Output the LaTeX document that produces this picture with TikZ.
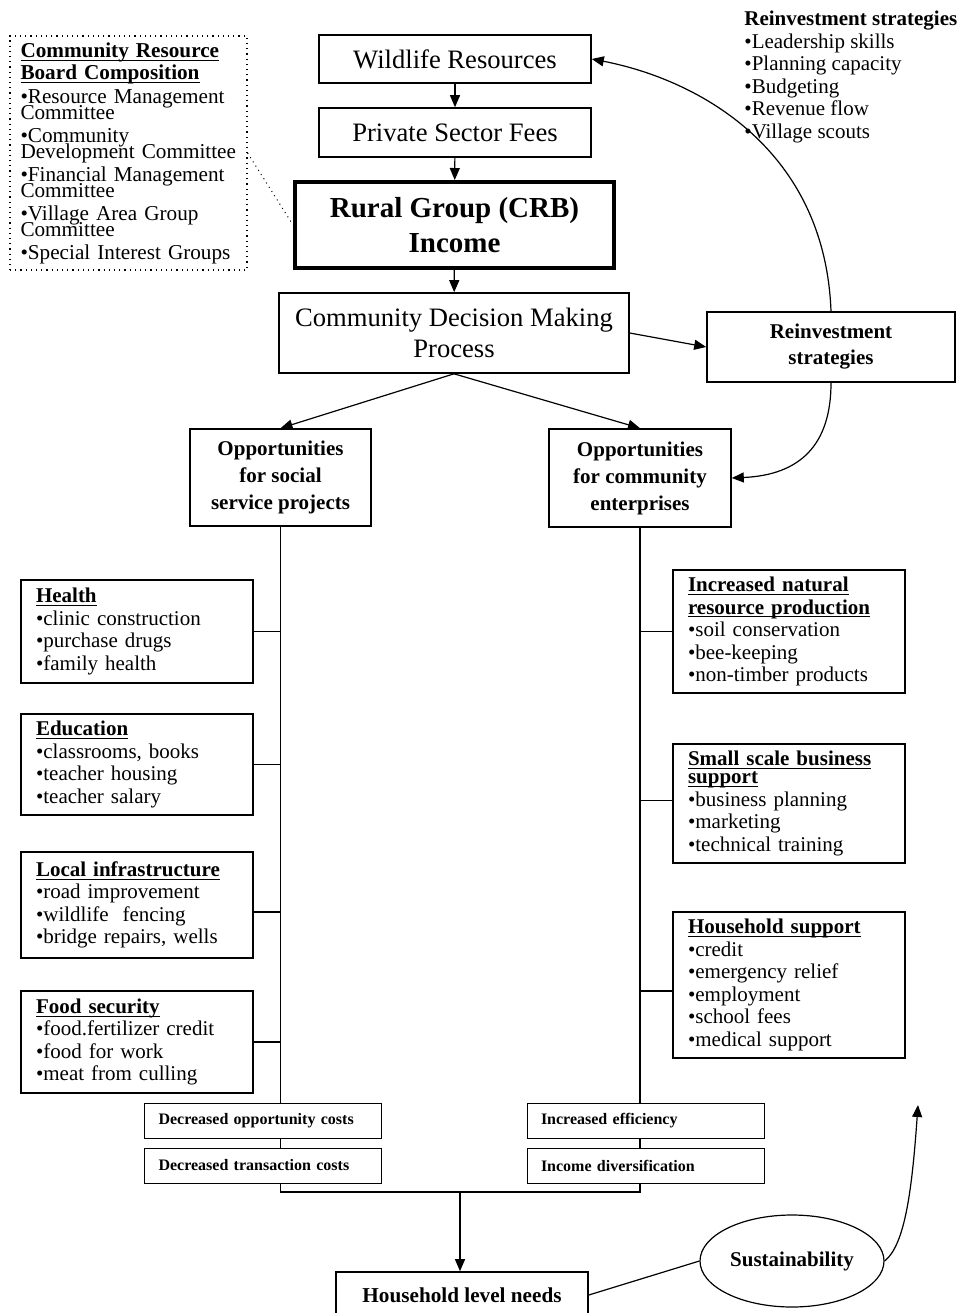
\documentclass[tikz,border=0pt]{standalone}
\usepackage{fontspec}
\setmainfont{Liberation Serif}
\usetikzlibrary{arrows.meta,shapes.geometric}
\newcommand{\hd}[1]{\underline{\raisebox{0pt}[\height][0pt]{\textbf{#1}}}}
\tikzset{
  box/.style={draw, line width=0.8pt, align=center, inner sep=0pt},
  listbox/.style={draw, line width=0.8pt, text width=101pt, inner xsep=7.5pt, inner ysep=0pt, align=left, font=\fontsize{10.5}{11.25}\selectfont},
  smallbox/.style={draw, line width=0.5pt, minimum height=17.5pt, text width=104.5pt, inner xsep=7pt, inner ysep=0pt, align=left, font=\bfseries\fontsize{8}{9}\selectfont},
  conn/.style={line width=0.6pt},
  arr/.style={line width=0.6pt, -{Triangle[length=6pt,width=5pt]}}
}
\begin{document}
\begin{tikzpicture}[x=0.5pt,y=-0.5pt]
\useasboundingbox (0,0) rectangle (962,1313);
% top chain
\node[box, minimum width=136pt, minimum height=24pt, font=\fontsize{13.3}{16}\selectfont] (wild) at (455,59) {Wildlife Resources};
\node[box, minimum width=136pt, minimum height=24.5pt, font=\fontsize{13.3}{16}\selectfont] (priv) at (455,132.5) {Private Sector Fees};
\node[box, line width=2pt, minimum width=159.5pt, minimum height=43pt, font=\bfseries\fontsize{14.5}{17.5}\selectfont] (rural) at (454.5,225) {Rural Group (CRB)\\ Income};
\node[box, minimum width=175pt, minimum height=40pt, font=\fontsize{13.3}{15.5}\selectfont] (cdm) at (454,333) {Community Decision Making\\ Process};
\node[box, minimum width=124pt, minimum height=35pt, font=\bfseries\fontsize{10.5}{13}\selectfont] (reinv) at (831,347) {Reinvestment\\ strategies};
% board composition
\node[draw, dotted, line width=0.6pt, text width=108pt, inner xsep=5.25pt, inner ysep=0pt, minimum height=117pt, align=left, font=\fontsize{10.6}{11.25}\selectfont] (crb) at (128.5,153) {\hd{Community Resource}\\ \hd{Board Composition}\\[0.5pt] •Resource Management\\[-3pt] Committee\\ •Community\\[-3pt] Development Committee\\ •Financial Management\\[-3pt] Committee\\ •Village Area Group\\[-3pt] Committee\\ •Special Interest Groups};
\node[anchor=west, inner sep=0pt, align=left, font=\fontsize{10.5}{11.3}\selectfont] (rlist) at (744,77) {\textbf{Reinvestment strategies}\\ •Leadership skills\\ •Planning capacity\\ •Budgeting\\ •Revenue flow\\ •Village scouts};
% opportunities
\node[box, minimum width=90.5pt, minimum height=48.5pt, font=\bfseries\fontsize{10.5}{13.5}\selectfont] (soc) at (280.5,477.5) {Opportunities\\ for social\\ service projects};
\node[box, minimum width=91pt, minimum height=49pt, font=\bfseries\fontsize{10.5}{13.5}\selectfont] (com) at (640,478) {Opportunities\\ for community\\ enterprises};
% social service projects
\node[listbox, minimum height=51.5pt] (health) at (137,631.5) {\hd{Health}\\ •clinic construction\\ •purchase drugs\\ •family health};
\node[listbox, minimum height=50.5pt] (educ) at (137,764.5) {\hd{Education}\\ •classrooms, books\\ •teacher housing\\ •teacher salary};
\node[listbox, minimum height=53pt] (infra) at (137,905) {\hd{Local infrastructure}\\ •road improvement\\ •wildlife\ \ fencing\\ •bridge repairs, wells};
\node[listbox, minimum height=51pt] (food) at (137,1042) {\hd{Food security}\\ •food.fertilizer credit\\ •food for work\\ •meat from culling};
% community enterprises
\node[listbox, minimum height=61.5pt] (natres) at (789,631.5) {\hd{Increased natural}\\ \hd{resource production}\\ •soil conservation\\ •bee-keeping\\ •non-timber products};
\node[listbox, minimum height=59.5pt] (business) at (789,803.5) {\hd{Small scale business}\\[-2.25pt] \hd{support}\\ •business planning\\ •marketing\\ •technical training};
\node[listbox, minimum height=73pt] (hsupport) at (789,985) {\hd{Household support}\\ •credit\\ •emergency relief\\ •employment\\ •school fees\\ •medical support};
% outcomes
\node[smallbox, minimum width=118.5pt] (dopp) at (263,1121) {Decreased opportunity costs};
\node[smallbox, minimum width=118.5pt] (dtrans) at (263,1165.5) {Decreased transaction costs};
\node[smallbox, minimum width=118.5pt] (ieff) at (645.5,1120.5) {Increased efficiency};
\node[smallbox, minimum width=118.5pt] (idiv) at (645.5,1166) {Income diversification};
\node[box, minimum width=126pt, minimum height=23pt, font=\bfseries\fontsize{10.6}{12}\selectfont] (hh) at (462,1295) {Household level needs};
\node[draw, ellipse, line width=0.6pt, minimum width=92pt, minimum height=46pt, inner sep=0pt, font=\bfseries\fontsize{10.5}{12}\selectfont] (sus) at (792,1261) {Sustainability};
\coordinate (join) at (460,1192);
\coordinate (tip) at (918,1105);
% arrows
\draw[arr] (wild) -- (priv);
\draw[arr] (priv) -- (rural);
\draw[arr] (rural) -- (cdm);
\draw[arr] (cdm.south) -- (soc.north);
\draw[arr] (cdm.south) -- (com.north);
\draw[arr] (cdm.east) -- (reinv.west);
\draw[arr] (reinv.north) .. controls (825,150) and (700,80) .. (wild.east);
\draw[arr] (reinv.south) .. controls (831,445) and (800,475) .. (com.east);
\draw[dotted, line width=0.5pt] (crb.east) -- (rural.west);
% trunk lines
\draw[conn] (soc.south) -- (soc.south |- dopp.north);
\draw[conn] (soc.south |- dopp.south) -- (soc.south |- dtrans.north);
\draw[conn] (soc.south |- dtrans.south) -- (soc.south |- join) -- (com.south |- join) -- (com.south |- idiv.south);
\draw[conn] (com.south) -- (com.south |- ieff.north);
\draw[conn] (com.south |- ieff.south) -- (com.south |- idiv.north);
\draw[conn] (health.east) -- (health.east -| soc.south);
\draw[conn] (educ.east) -- (educ.east -| soc.south);
\draw[conn] ([yshift=-3.5pt]infra.east) -- ([yshift=-3.5pt]infra.east -| soc.south);
\draw[conn] (food.east) -- (food.east -| soc.south);
\draw[conn] (natres.west) -- (natres.west -| com.south);
\draw[conn] ([yshift=1.5pt]business.west) -- ([yshift=1.5pt]business.west -| com.south);
\draw[conn] ([yshift=-3pt]hsupport.west) -- ([yshift=-3pt]hsupport.west -| com.south);
\draw[arr] (join) -- (join |- hh.north);
\draw[conn] (hh.east) -- (sus.west);
\draw[arr] (sus.east) .. controls (905,1245) and (912,1190) .. (tip);
\end{tikzpicture}
\end{document}
